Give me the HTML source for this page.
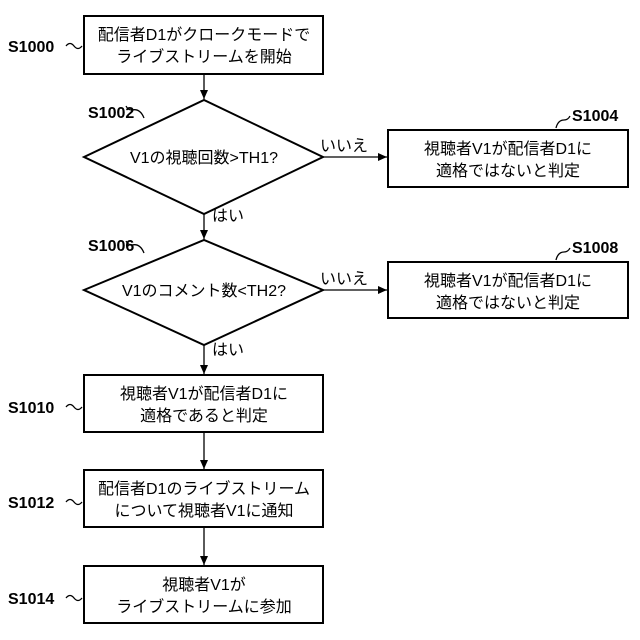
<!DOCTYPE html>
<html><head><meta charset="utf-8"><style>
html,body{margin:0;padding:0;background:#fff}
svg{display:block}
text{font-family:"Liberation Sans","Noto Sans CJK JP",sans-serif;font-size:16px;fill:#000}
.l{font-weight:bold;font-size:16px}
</style></head><body>
<svg width="640" height="640" viewBox="0 0 640 640" xmlns="http://www.w3.org/2000/svg">
<defs><marker id="a" markerWidth="10" markerHeight="10" refX="9" refY="4" orient="auto" markerUnits="userSpaceOnUse"><path d="M0,0 L9,4 L0,8 Z" fill="#000"/></marker></defs>
<g fill="none" stroke="#000" stroke-width="2">
<rect x="84" y="16" width="239" height="58"/>
<polygon points="84,157 204,100 323,157 204,214"/>
<rect x="388" y="130" width="240" height="57"/>
<polygon points="84,290 204,240 323,290 204,345"/>
<rect x="388" y="262" width="240" height="56"/>
<rect x="84" y="375" width="239" height="57"/>
<rect x="84" y="470" width="239" height="57"/>
<rect x="84" y="566" width="239" height="57"/>
</g>
<g stroke="#000" stroke-width="1.3" fill="none">
<line x1="204" y1="74" x2="204" y2="99" marker-end="url(#a)"/>
<line x1="204" y1="214" x2="204" y2="239" marker-end="url(#a)"/>
<line x1="204" y1="345" x2="204" y2="374" marker-end="url(#a)"/>
<line x1="204" y1="432" x2="204" y2="469" marker-end="url(#a)"/>
<line x1="204" y1="527" x2="204" y2="565" marker-end="url(#a)"/>
<line x1="323" y1="157" x2="387" y2="157" marker-end="url(#a)"/>
<line x1="323" y1="290" x2="387" y2="290" marker-end="url(#a)"/>
<path d="M66,46 q4,-5 8,0 t8,0"/>
<path d="M144,118 q-4,-10 -12,-8 q-4,0 -6,-4"/>
<path d="M144,253 q-4,-10 -12,-8 q-4,0 -6,-4"/>
<path d="M556,128 q2,-8 8,-8 q4,0 6,-4"/>
<path d="M556,260 q2,-8 8,-8 q4,0 6,-4"/>
<path d="M66,407 q4,-5 8,0 t8,0"/>
<path d="M66,502 q4,-5 8,0 t8,0"/>
<path d="M66,598 q4,-5 8,0 t8,0"/>
</g>
<g text-anchor="middle">
<text x="204" y="40">配信者D1がクロークモードで</text>
<text x="204" y="62">ライブストリームを開始</text>
<text x="204" y="163">V1の視聴回数&gt;TH1?</text>
<text x="508" y="154">視聴者V1が配信者D1に</text>
<text x="508" y="176">適格ではないと判定</text>
<text x="204" y="296">V1のコメント数&lt;TH2?</text>
<text x="508" y="286">視聴者V1が配信者D1に</text>
<text x="508" y="308">適格ではないと判定</text>
<text x="204" y="399">視聴者V1が配信者D1に</text>
<text x="204" y="421">適格であると判定</text>
<text x="204" y="494">配信者D1のライブストリーム</text>
<text x="204" y="516">について視聴者V1に通知</text>
<text x="204" y="590">視聴者V1が</text>
<text x="204" y="612">ライブストリームに参加</text>
</g>
<text x="320" y="151">いいえ</text>
<text x="320" y="284">いいえ</text>
<text x="212" y="221">はい</text>
<text x="212" y="355">はい</text>
<g class="l">
<text class="l" x="8" y="52">S1000</text>
<text class="l" x="88" y="118">S1002</text>
<text class="l" x="572" y="121">S1004</text>
<text class="l" x="88" y="251">S1006</text>
<text class="l" x="572" y="253">S1008</text>
<text class="l" x="8" y="413">S1010</text>
<text class="l" x="8" y="508">S1012</text>
<text class="l" x="8" y="604">S1014</text>
</g>
</svg>
</body></html>
